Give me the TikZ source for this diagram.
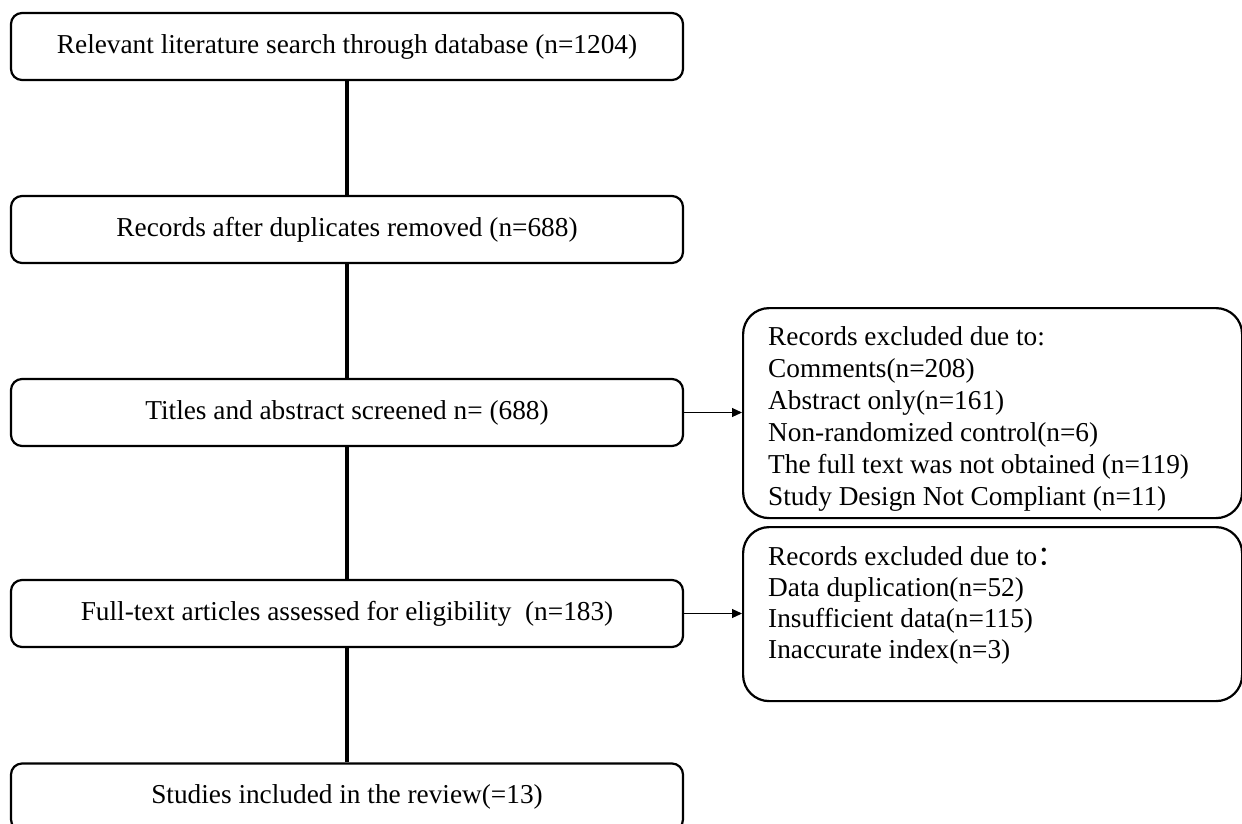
\documentclass[tikz,border=0pt]{standalone}
\usepackage{fontspec}
\setmainfont{Liberation Serif}
\newfontfamily\cjk{Noto Sans CJK SC}
\usetikzlibrary{arrows.meta,calc}
\begin{document}
\begin{tikzpicture}[x=1pt,y=-1pt,
  mainbox/.style={draw=black, line width=2.2pt, rounded corners=11pt, minimum width=672pt, minimum height=67pt, inner sep=0pt, font=\fontsize{27.3}{32}\selectfont},
  sidebox/.style={draw=black, line width=2.2pt, rounded corners=26pt, minimum width=499pt, inner sep=0pt, anchor=north west},
  sidetext/.style={anchor=north west, align=left, inner sep=0pt, font=\fontsize{27.3}{32}\selectfont},
  trunk/.style={line width=3.5pt},
  arr/.style={line width=1.1pt, -{Triangle[length=10pt,width=9pt]}}]
\useasboundingbox (0,0) rectangle (1242,823);
\clip (0,0) rectangle (1242,823);
\node[mainbox] (b1) at (347,46.5) {Relevant literature search through database (n=1204)};
\node[mainbox] (b2) at (347,229.5) {Records after duplicates removed (n=688)};
\node[mainbox] (b3) at (347,412.5) {Titles and abstract screened n= (688)};
\node[mainbox] (b4) at (347,613.5) {Full-text articles assessed for eligibility\ \ (n=183)};
\node[mainbox] (b5) at (347,797) {Studies included in the review(=13)};
\node[sidebox, minimum height=210pt] (exA) at (742,307) {};
\node[sidebox, minimum height=174pt] (exB) at (742,526) {};
\node[sidetext] (tA) at ($(exA.north west)+(26,19.5)$) {Records excluded due to:\\Comments(n=208)\\Abstract only(n=161)\\Non-randomized control(n=6)\\The full text was not obtained (n=119)\\Study Design Not Compliant (n=11)};
\node[sidetext, font=\fontsize{27.3}{31}\selectfont] (tB) at ($(exB.north west)+(26,20.5)$) {Records excluded due to{\cjk ：}\\Data duplication(n=52)\\Insufficient data(n=115)\\Inaccurate index(n=3)};
\draw[trunk] (b1.south) -- (b2.north);
\draw[trunk] (b2.south) -- (b3.north);
\draw[trunk] (b3.south) -- (b4.north);
\draw[trunk] (b4.south) -- (b5.north);
\draw[arr] (b3.east) -- (exA.west |- b3.east);
\draw[arr] (b4.east) -- (exB.west |- b4.east);
\end{tikzpicture}
\end{document}
